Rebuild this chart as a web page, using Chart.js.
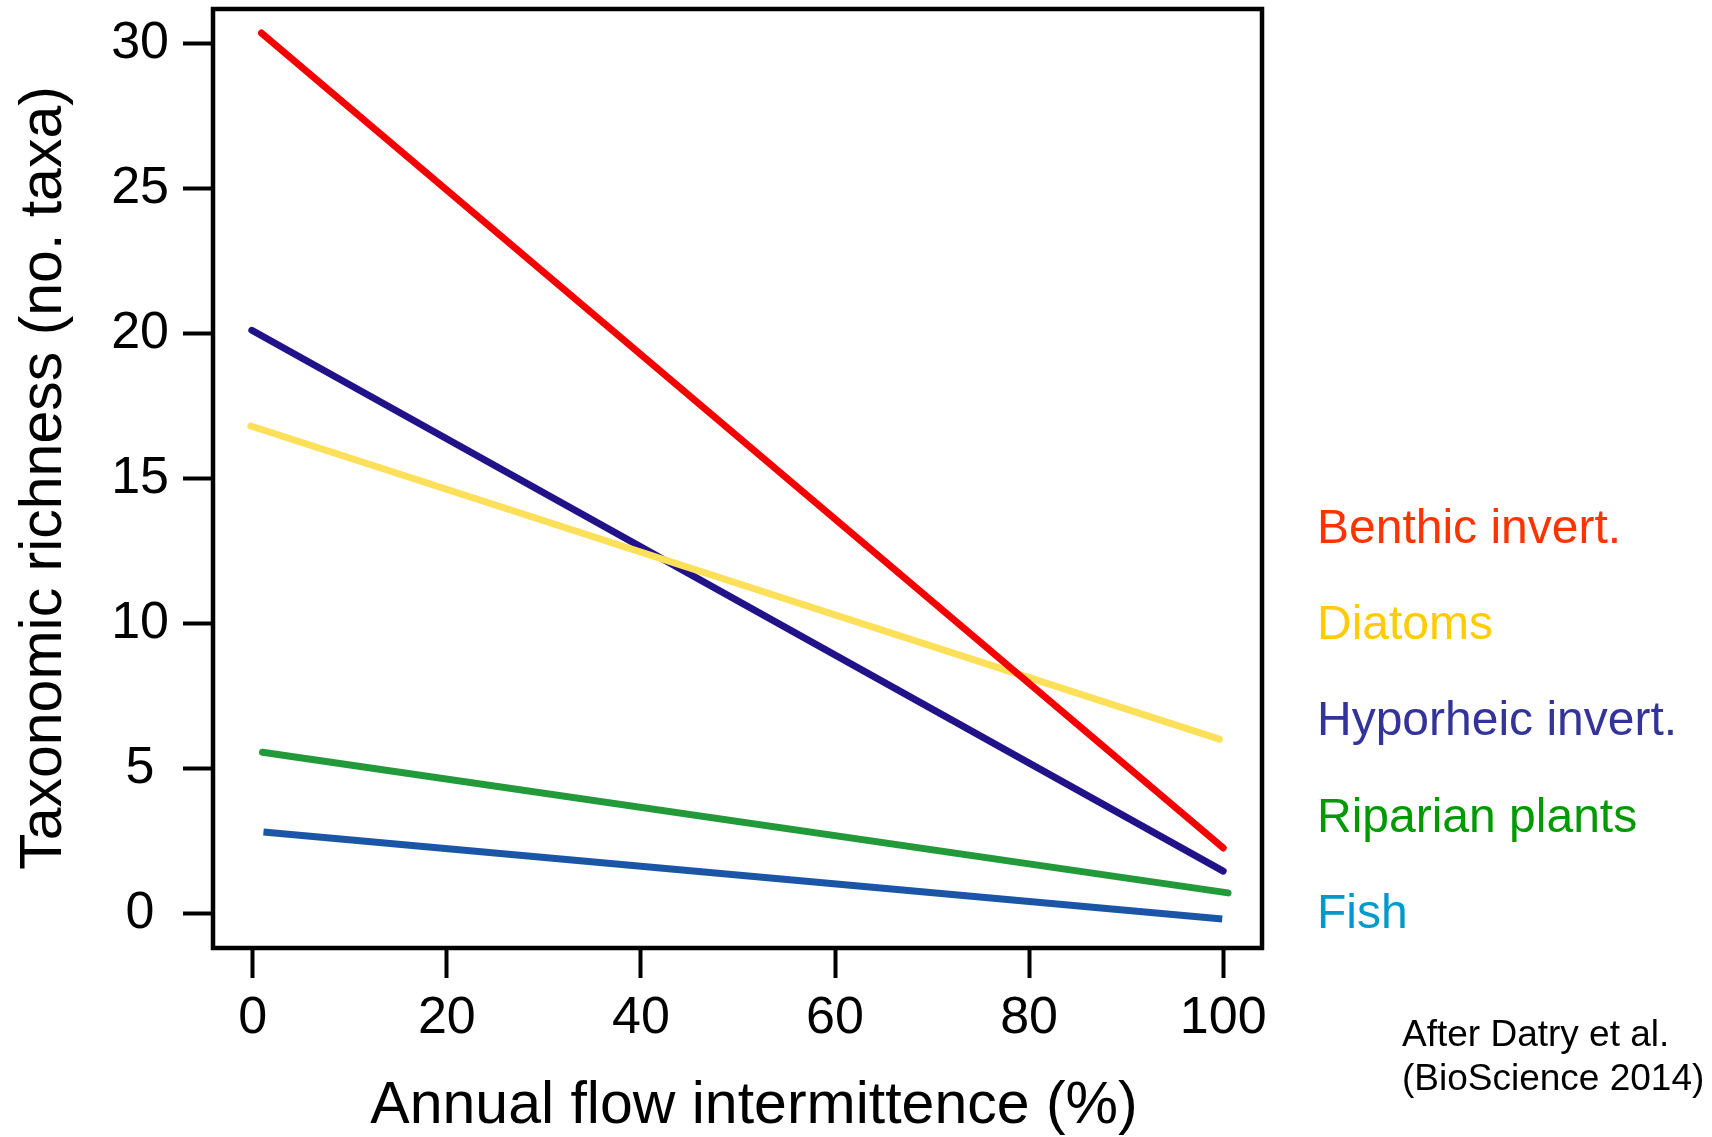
<!DOCTYPE html>
<html>
<head>
<meta charset="utf-8">
<script src="https://cdn.jsdelivr.net/npm/chart.js@4.4.1/dist/chart.umd.min.js"></script>
<style>
  html, body { margin: 0; padding: 0; background: #fff; }
  canvas { display: block; }
</style>
</head>
<body>
<canvas id="chart" width="1712" height="1137"></canvas>
<script>
// fitted lines: x = annual flow intermittence (%), y = no. taxa
const seriesNames = ['Benthic invert.', 'Diatoms', 'Hyporheic invert.', 'Riparian plants', 'Fish'];
const benthicX = [0.9, 100];
const benthicY = [30.35, 2.25];
const diatomsX = [-0.2, 99.6];
const diatomsY = [16.8, 6.0];
const hyporheicX = [-0.1, 100];
const hyporheicY = [20.1, 1.45];
const riparianX = [1.0, 100.5];
const riparianY = [5.55, 0.7];
const fishX = [1.1, 99.9];
const fishY = [2.8, -0.2];

const xTicks = [0, 20, 40, 60, 80, 100];
const yTicks = [0, 5, 10, 15, 20, 25, 30];

const xTitle = 'Annual flow intermittence (%)';
const yTitle = 'Taxonomic richness (no. taxa)';
const credit = ['After Datry et al.', '(BioScience 2014)'];

const lineColors = ['#f50000', '#fde05a', '#22128a', '#229a3a', '#1a55a6'];
const labelColors = ['#ff3300', '#ffcc00', '#333399', '#009900', '#0099cc'];
const capStyles = ['round', 'round', 'round', 'round', 'butt'];

const FONT = '"Liberation Sans", Arial, Helvetica, sans-serif';
Chart.defaults.font.family = FONT;
Chart.defaults.color = '#000';

function toPoints(xs, ys) {
    return xs.map((x, i) => ({ x: x, y: ys[i] }));
}

const seriesData = [
    toPoints(benthicX, benthicY),
    toPoints(diatomsX, diatomsY),
    toPoints(hyporheicX, hyporheicY),
    toPoints(riparianX, riparianY),
    toPoints(fishX, fishY)
];

// frame, axis titles, coloured labels on the right and the source note
const annotate = {
    id: 'annotate',
    afterDraw(chart) {
        const ctx = chart.ctx;
        const a = chart.chartArea;
        ctx.save();
        ctx.lineWidth = 4.5;
        ctx.strokeStyle = '#000';
        ctx.strokeRect(a.left, a.top, a.right - a.left, a.bottom - a.top);

        ctx.fillStyle = '#000';
        ctx.textAlign = 'center';
        ctx.textBaseline = 'alphabetic';
        ctx.font = '59px ' + FONT;
        ctx.fillText(xTitle, 754, 1123);

        ctx.save();
        ctx.translate(61, 478);
        ctx.rotate(-Math.PI / 2);
        ctx.fillText(yTitle, 0, 0);
        ctx.restore();

        ctx.textAlign = 'left';
        ctx.font = '48px ' + FONT;
        seriesNames.forEach((name, i) => {
            ctx.fillStyle = labelColors[i];
            ctx.fillText(name, 1317, 543 + i * 96.2);
        });

        ctx.fillStyle = '#000';
        ctx.font = '37px ' + FONT;
        credit.forEach((line, i) => ctx.fillText(line, 1402, 1046 + i * 44));
        ctx.restore();
    }
};

new Chart(document.getElementById('chart'), {
    type: 'line',
    data: {
        datasets: seriesData.map((pts, i) => ({
            label: seriesNames[i],
            data: pts,
            borderColor: lineColors[i],
            borderWidth: 7,
            borderCapStyle: capStyles[i],
            pointRadius: 0,
            fill: false,
            tension: 0
        }))
    },
    options: {
        responsive: false,
        animation: false,
        layout: { padding: { top: 9, right: 450, bottom: 0, left: 0 } },
        plugins: {
            legend: { display: false },
            tooltip: { enabled: false }
        },
        scales: {
            x: {
                type: 'linear',
                min: -4.1,
                max: 104.0,
                afterBuildTicks: scale => { scale.ticks = xTicks.map(v => ({ value: v })); },
                afterFit: scale => {
                    scale.height = 189;
                    scale.paddingLeft = 0;
                    scale.paddingRight = 0;
                },
                border: { display: false },
                grid: { drawOnChartArea: false, tickLength: 30, tickWidth: 4, tickColor: '#000' },
                ticks: { font: { size: 52 }, color: '#000', padding: 9, maxRotation: 0 }
            },
            y: {
                type: 'linear',
                min: -1.2,
                max: 31.18,
                afterBuildTicks: scale => { scale.ticks = yTicks.map(v => ({ value: v })); },
                afterFit: scale => {
                    scale.width = 213;
                    scale.paddingTop = 0;
                    scale.paddingBottom = 0;
                },
                border: { display: false },
                grid: { drawOnChartArea: false, tickLength: 30, tickWidth: 4, tickColor: '#000' },
                ticks: { font: { size: 52 }, color: '#000', padding: 14, crossAlign: 'center' }
            }
        }
    },
    plugins: [annotate]
});
</script>
</body>
</html>
